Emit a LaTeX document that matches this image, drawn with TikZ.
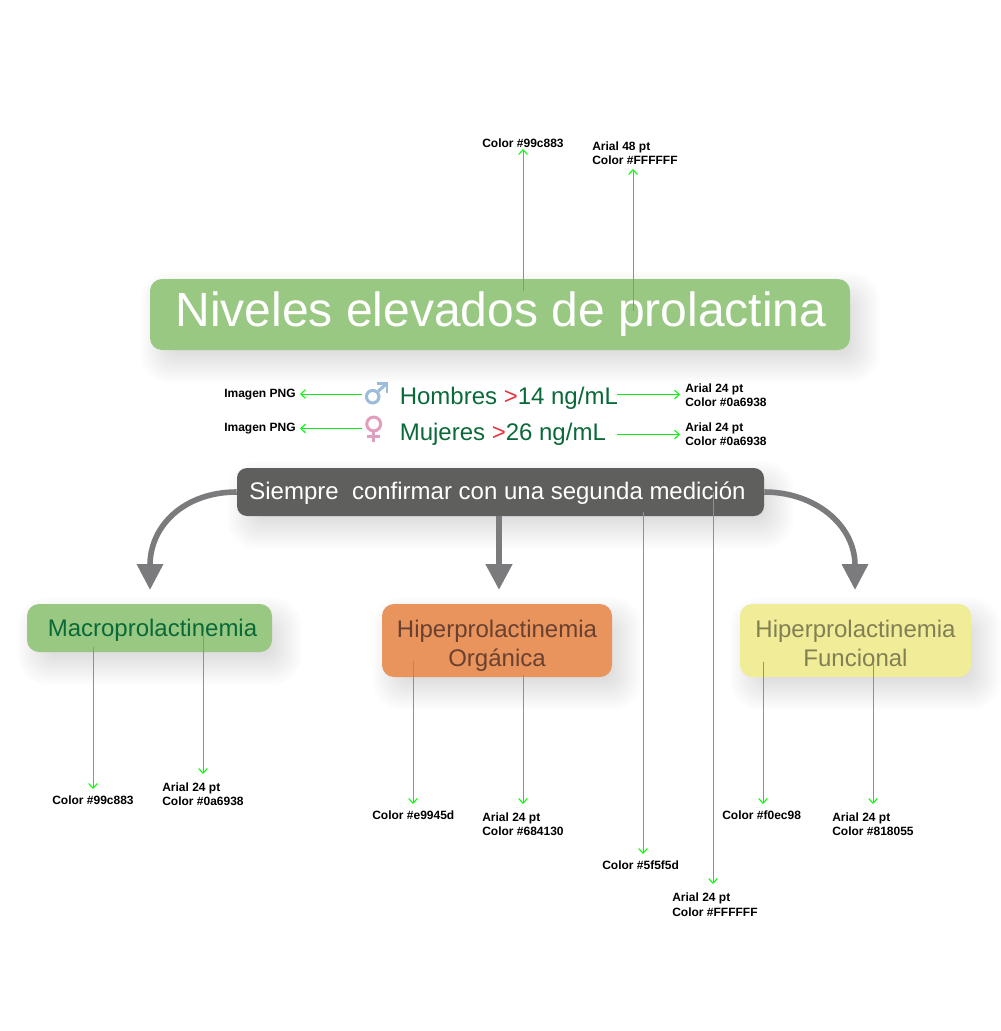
\documentclass[tikz,border=0pt]{standalone}
\usepackage{fontspec}
\setmainfont{Liberation Sans}
\usetikzlibrary{arrows.meta}
\definecolor{cgreen}{HTML}{99C883}
\definecolor{cdark}{HTML}{5F5F5D}
\definecolor{corange}{HTML}{E9945D}
\definecolor{cyellow}{HTML}{F0EC98}
\definecolor{tgreen}{HTML}{0A6938}
\definecolor{tbrown}{HTML}{684130}
\definecolor{tolive}{HTML}{818055}
\definecolor{flow}{HTML}{7B7B7D}
\definecolor{note}{HTML}{12E61E}
\definecolor{malec}{HTML}{9DBBDB}
\definecolor{femalec}{HTML}{DFA0BE}
\definecolor{cred}{HTML}{E8343E}
\newcommand{\softshadow}[5]{% x0 y0 x1 y1 radius
  \foreach \s in {20,18,...,-14}{
    \fill[black,opacity=0.009,rounded corners=(4.5+(\s+14)*0.7*0.75)*1pt]
      (#1+10-\s,#2+13-\s) rectangle (#3+10+\s,#4+13+\s);
  }}
\newcommand{\strutA}{\rule[-5pt]{0pt}{26.8pt}}
\newcommand{\strutB}{\rule[-5pt]{0pt}{5pt}}
\tikzset{
  x=0.75pt,y=-0.75pt,
  box/.style={rounded corners=#1,inner sep=0pt,align=center},
  box/.default=9pt,
  big/.style={font=\fontsize{36pt}{42pt}\selectfont},
  mid/.style={font=\fontsize{18pt}{21.75pt}\selectfont},
  notelabel/.style={font=\bfseries\fontsize{9pt}{10.8pt}\selectfont,inner sep=0pt,align=left,anchor=west,text=black},
  notearrow/.style={draw=note,line width=0.7pt,-{Straight Barb[length=3.5pt,width=6.5pt,color=green,line width=0.8pt]}},
  flowarrow/.style={draw=flow,line width=#1,-{Triangle[length=19.5pt,width=19pt]}},
  flowarrow/.default=4.2pt,
  plain/.style={inner sep=0pt,anchor=base west},
}
\begin{document}
\begin{tikzpicture}
\useasboundingbox (0,0) rectangle (1000,1031);
\softshadow{150}{279}{850}{350}{12}
\softshadow{237}{468}{764}{516}{10}
\softshadow{27}{604}{272}{652}{12}
\softshadow{382}{604}{612}{677}{12}
\softshadow{740}{604}{971}{677}{12}

% main boxes
\node[box,fill=cgreen,text=white,big,minimum width=525pt,minimum height=53.25pt] (title) at (500,314.5) {\rule[-11.2pt]{0pt}{40pt}\hspace*{1.5pt}Niveles elevados de prolactina};
\node[box=7.5pt,fill=cdark,text=white,mid,minimum width=395.25pt,minimum height=36pt] (confirm) at (500.5,492) {\rule[-5.5pt]{0pt}{22.5pt}Siempre\ \ confirmar con una segunda medición\hspace*{4.5pt}};
\node[box,fill=cgreen,text=tgreen,mid,minimum width=183.75pt,minimum height=36pt] (macro) at (149.5,628) {\rule[-5pt]{0pt}{23pt}\hspace*{4.5pt}Macroprolactinemia};
\node[box,fill=corange,text=tbrown,mid,minimum width=172.5pt,minimum height=54.75pt] (organica) at (497,640.5) {\strutA Hiperprolactinemia\\\strutB Orgánica};
\node[box,fill=cyellow,text=tolive,mid,minimum width=173.25pt,minimum height=54.75pt] (funcional) at (855.5,640.5) {\strutA Hiperprolactinemia\\\strutB Funcional};

% sex lines
\node[plain,mid,text=tgreen] (hombres) at (399.5,404) {Hombres {\color{cred}>}14 ng/mL};
\node[plain,mid,text=tgreen] (mujeres) at (399.5,440) {Mujeres {\color{cred}>}26 ng/mL};

% male symbol
\node[circle,draw=malec,line width=2.3pt,minimum size=9.4pt,inner sep=0pt] (male) at (372.7,396.7) {};
\coordinate (maleTip) at (387,383.4);
\draw[malec,line width=2.3pt] (male.45) -- (maleTip);
\draw[malec,line width=2.1pt] (377,383.6) -- (387,383.6) -- (387,392.7);
% female symbol
\node[circle,draw=femalec,line width=2.3pt,minimum size=10.4pt,inner sep=0pt] (female) at (373.7,424) {};
\coordinate (femaleEnd) at (373.7,442.3);
\draw[femalec,line width=2.3pt] (female.south) -- (femaleEnd);
\draw[femalec,line width=2.1pt] (367,436.7) -- (380.3,436.7);

% flow arrows
\coordinate (tipL) at (150,590);
\coordinate (tipM) at (499,590);
\coordinate (tipR) at (855,590);
\draw[flowarrow] (confirm.west) .. controls (185,492) and (150,525) .. (tipL);
\draw[flowarrow=5pt] (tipM |- confirm.south) -- (tipM);
\draw[flowarrow] (confirm.east) .. controls (815,492) and (855,525) .. (tipR);

% note labels
\node[notelabel] (n1) at (482,143.5) {Color \#99c883};
\node[notelabel] (n2) at (592,153) {Arial 48 pt\\Color \#FFFFFF};
\node[notelabel] (n3) at (224,394.5) {Imagen PNG};
\node[notelabel] (n4) at (224,428.5) {Imagen PNG};
\node[notelabel] (n5) at (685,395.5) {Arial 24 pt\\Color \#0a6938};
\node[notelabel] (n6) at (685,434.5) {Arial 24 pt\\Color \#0a6938};
\node[notelabel] (n7) at (52,800.5) {Color \#99c883};
\node[notelabel] (n8) at (162,794.5) {Arial 24 pt\\Color \#0a6938};
\node[notelabel] (n9) at (372,815.5) {Color \#e9945d};
\node[notelabel] (n10) at (482,824.5) {Arial 24 pt\\Color \#684130};
\node[notelabel] (n11) at (602,865.5) {Color \#5f5f5d};
\node[notelabel] (n12) at (672,904.5) {Arial 24 pt\\Color \#FFFFFF};
\node[notelabel] (n13) at (722,815.5) {Color \#f0ec98};
\node[notelabel] (n14) at (832,824.5) {Arial 24 pt\\Color \#818055};

% note anchors
\coordinate (a1) at (523,291); \coordinate (e1) at (523,149);
\coordinate (a2) at (633,311); \coordinate (e2) at (633,169);
\coordinate (a3) at (362,394); \coordinate (e3) at (300,394);
\coordinate (a4) at (362,428.5); \coordinate (e4) at (300,428.5);
\coordinate (a5) at (617,394.5); \coordinate (e5) at (680,394.5);
\coordinate (a6) at (617,434.5); \coordinate (e6) at (680,434.5);
\coordinate (a7) at (93,647); \coordinate (e7) at (93,789);
\coordinate (a8) at (203,632); \coordinate (e8) at (203,774);
\coordinate (a9) at (413,661); \coordinate (e9) at (413,804);
\coordinate (a10) at (523,675); \coordinate (e10) at (523,804);
\coordinate (a11) at (643,512); \coordinate (e11) at (643,854);
\coordinate (a12) at (713,492); \coordinate (e12) at (713,884);
\coordinate (a13) at (763,662); \coordinate (e13) at (763,804);
\coordinate (a14) at (873,662); \coordinate (e14) at (873,804);
\foreach \i in {1,...,14}{\draw[notearrow] (a\i) -- (e\i);}
\end{tikzpicture}
\end{document}
